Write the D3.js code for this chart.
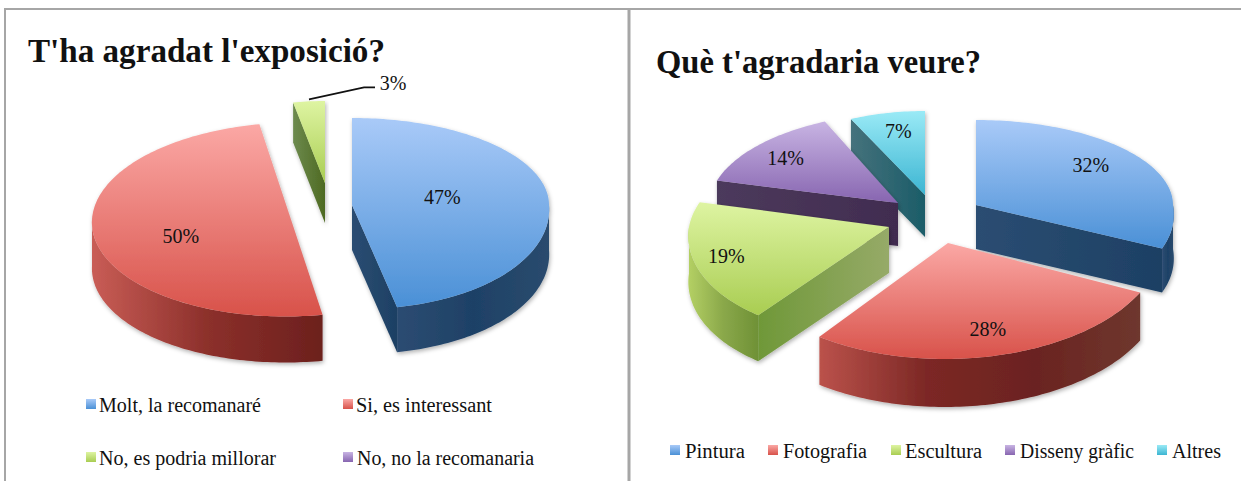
<!DOCTYPE html>
<html><head><meta charset="utf-8">
<style>html,body{margin:0;padding:0;background:#fff;overflow:hidden}text{font-family:"Liberation Serif",serif;fill:#111}</style>
<script src="https://cdn.jsdelivr.net/npm/d3@7"></script>
</head><body><svg id="c" width="1241" height="481"></svg>
<script>
const leftTitle = "T'ha agradat l'exposició?";
const leftCategories = ["Molt, la recomanaré","Si, es interessant","No, es podria millorar","No, no la recomanaria"];
const leftValues = [47,50,3,0];
const rightTitle = "Què t'agradaria veure?";
const rightCategories = ["Pintura","Fotografia","Escultura","Disseny gràfic","Altres"];
const rightValues = [32,28,19,14,7];

const topRamps = [["#a9caf8","#4a90d6"],["#fba8a5","#d8524a"],["#def4a2","#a9cd52"],["#c8b4e3","#8765b0"],["#9aeaf6","#3cb5d2"]];
const sideRamps = [["#2c4c72","#1e4166","#2a4b6e"],["#c95d56","#8c302b","#6c201d"],["#b4d064","#8aa84a","#6f9136"],["#4c3a5e","#46325a","#3f2c50"],["#447078","#2c626e","#1b5a66"],["#bb524b","#7c2825","#6b2320","#6e372e"]];
const edgeRamps = [["#2b4d72","#1d4064"],["#b84f48","#7a2a26"],["#6f9838","#96aa68"],["#4c3a5c","#412c50"],["#45727c","#1b5c68"],["#6d8a4e","#4e6a22"]];

const leftGeom = [
 {cx:352,cy:205,rx:197,ryT:87,ryB:104,d:45,kT:0,kB:.08,lr:.46,ldy:-3,side:0,edge:0},
 {cx:291,cy:219.5,rx:199,ryT:97,ryB:97,d:46,kT:-.06,kB:-.06,lr:.56,ldy:7,side:1,edge:1},
 {cx:325,cy:183,rx:170,ryT:82,ryB:82,d:40,kT:0,kB:0,lr:0,ldy:0,side:2,edge:5},
 {cx:325,cy:183,rx:170,ryT:82,ryB:82,d:40,kT:0,kB:0,lr:0,ldy:0,side:3,edge:3}];
const rightGeom = [
 {cx:976,cy:205,rx:197,ryT:85,ryB:102,d:44,kT:0,kB:.18,lr:.69,ldy:-8,side:0,edge:0},
 {cx:948,cy:243,rx:214,ryT:115,ryB:116,d:48,kT:0,kB:-.03,lr:.8,ldy:-3,side:5,edge:1},
 {cx:889,cy:227,rx:200,ryT:100,ryB:109,d:46,kT:-.18,kB:-.15,lr:.84,ldy:-1,side:2,edge:2},
 {cx:898,cy:203,rx:189,ryT:90,ryB:90,d:43,kT:-.09,kB:-.09,lr:.8,ldy:2,side:3,edge:3},
 {cx:925,cy:195,rx:174,ryT:84,ryB:84,d:42,kT:0,kB:0,lr:.7,ldy:-6,side:4,edge:4}];
const leftOrder=[2,1,0], rightOrder=[4,3,2,0,1];
const leftLegend=[{sx:86,sy:399,tx:99,ty:412,w:162},{sx:343,sy:399,tx:356,ty:412,w:136},{sx:86,sy:452,tx:99,ty:465,w:177},{sx:343,sy:452,tx:357,ty:465,w:177}];
const rightLegend=[{sx:670,sy:445,tx:685,ty:458,w:60},{sx:768,sy:445,tx:783,ty:458,w:84},{sx:891,sy:445,tx:905,ty:458,w:77},{sx:1005,sy:445,tx:1020,ty:458,w:114},{sx:1157,sy:445,tx:1172,ty:458,w:49}];

const svg=d3.select("#c"), defs=svg.append("defs");
const pie=d3.pie().sort(null);
const line=d3.line();
function grad(id,stops,horizontal){
  const g=defs.append("linearGradient").attr("id",id).attr("x1",0).attr("y1",0).attr("x2",horizontal?1:0).attr("y2",horizontal?0:1);
  stops.forEach((c,i)=>g.append("stop").attr("offset",i/(stops.length-1)).attr("stop-color",c));
}
topRamps.forEach((r,i)=>grad("top"+i,r,false));
sideRamps.forEach((r,i)=>grad("side"+i,r,true));
edgeRamps.forEach((r,i)=>grad("edge"+i,r,true));
defs.append("filter").attr("id","soft").attr("x","-10%").attr("y","-10%").attr("width","120%").attr("height","120%")
  .append("feDropShadow").attr("dx",1).attr("dy",2).attr("stdDeviation",2).attr("flood-color","#000").attr("flood-opacity",.3);

function project(g,a,r,dz){
  const x=Math.sin(a)*g.rx*r, c=Math.cos(a);
  const y=-c*(c>0?g.ryT:g.ryB)*r;
  const k=y>0?g.kB:g.kT;
  return [g.cx+x+k*y, g.cy+y+(dz||0)];
}
function arcPts(g,a,b,dz){
  const n=Math.max(2,Math.ceil((b-a)/0.02));
  return d3.range(n+1).map(i=>project(g,a+(b-a)*i/n,1,dz));
}
function drawPie(values,geom,order,showLeader){
  const arcs=pie(values);
  order.forEach(i=>{
    const s=arcs[i], g=geom[i], a=s.startAngle, b=s.endAngle;
    if(b-a<=0) return;
    const grp=svg.append("g").attr("filter","url(#soft)");
    const C=project(g,0,0), Cb=project(g,0,0,g.d);
    [[a,Math.sin(a)<-1e-6],[b,Math.sin(b)>1e-6]].forEach(([t,vis])=>{
      if(!vis) return;
      grp.append("path").attr("fill",`url(#edge${g.edge})`)
        .attr("d",line([C,project(g,t,1),project(g,t,1,g.d),Cb])+"Z");
    });
    const lo=Math.max(a,Math.PI/2), hi=Math.min(b,Math.PI*1.5);
    if(hi>lo){
      const pts=arcPts(g,lo,hi,0).concat(arcPts(g,lo,hi,g.d).reverse());
      grp.append("path").attr("fill",`url(#side${g.side})`).attr("d",line(pts)+"Z");
    }
    grp.append("path").attr("fill",`url(#top${i})`)
      .attr("d",line([C].concat(arcPts(g,a,b,0)))+"Z");
  });
  arcs.forEach((s,i)=>{
    if(s.endAngle-s.startAngle<=0) return;
    const g=geom[i], mid=(s.startAngle+s.endAngle)/2;
    if(g.lr>0){
      const p=project(g,mid,g.lr);
      svg.append("text").attr("x",p[0]).attr("y",p[1]+g.ldy+6).attr("text-anchor","middle")
        .attr("font-size",20).text(values[i]+"%");
    } else if(showLeader){
      const p=project(g,mid,1);
      svg.append("path").attr("fill","none").attr("stroke","#111").attr("stroke-width",1.6)
        .attr("d",line([[p[0],p[1]-2],[p[0]+55,p[1]-14],[p[0]+66,p[1]-14]]));
      svg.append("text").attr("x",p[0]+84).attr("y",p[1]-11).attr("text-anchor","middle")
        .attr("font-size",20).attr("fill","#222").text(values[i]+"%");
    }
  });
}
function drawLegend(cats,layout){
  cats.forEach((c,i)=>{
    const l=layout[i];
    svg.append("rect").attr("x",l.sx).attr("y",l.sy).attr("width",10).attr("height",10).attr("fill",`url(#top${i})`);
    svg.append("text").attr("x",l.tx).attr("y",l.ty).attr("font-size",20)
      .attr("textLength",l.w).attr("lengthAdjust","spacingAndGlyphs").attr("fill","#222").text(c);
  });
}
function title(t,x,y,w){
  svg.append("text").attr("x",x).attr("y",y).attr("font-size",34).attr("font-weight","bold")
    .attr("textLength",w).attr("lengthAdjust","spacingAndGlyphs").attr("fill","#000").text(t);
}
const frame="#a6a6a6";
svg.append("path").attr("fill","none").attr("stroke",frame).attr("stroke-width",2).attr("d",line([[5,481],[5,9],[1241,9]]));
svg.append("path").attr("fill","none").attr("stroke",frame).attr("stroke-width",3).attr("d",line([[629,9],[629,481]]));

title(leftTitle,28,62,357);
title(rightTitle,656,73,325);
drawPie(leftValues,leftGeom,leftOrder,true);
drawPie(rightValues,rightGeom,rightOrder,false);
drawLegend(leftCategories,leftLegend);
drawLegend(rightCategories,rightLegend);
</script></body></html>
